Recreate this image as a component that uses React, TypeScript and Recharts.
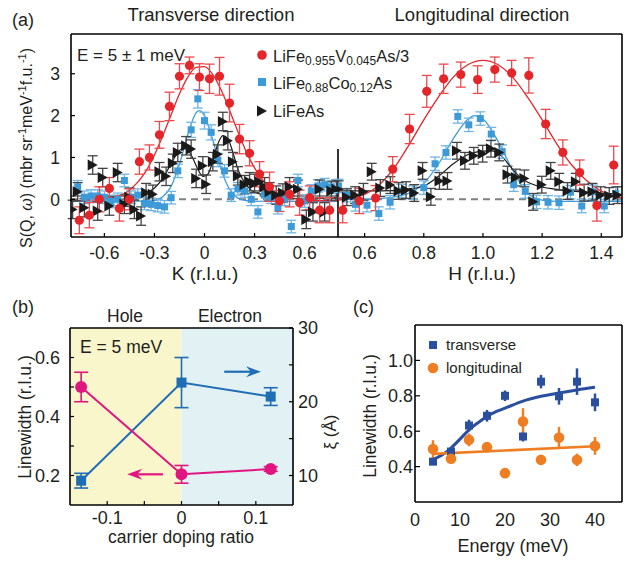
import React from 'react';
import { ComposedChart, Scatter, Line, XAxis, YAxis, ErrorBar, ReferenceLine, ReferenceArea } from 'recharts';

const FONT = '"Liberation Sans", Arial, Helvetica, sans-serif';
const INK = '#231f20';
const RED = '#e4262b';
const LBLUE = '#3d9ad8';
const BLK = '#1a1a1a';
const MAG = '#e0157f';
const DBLUE = '#1f6db5';
const CBLUE = '#2a4f9e';
const ORANGE = '#ef7d22';

// ---------- Panel (a): transverse (K) ----------
const kRed = [-0.75,-0.69,-0.63,-0.57,-0.51,-0.45,-0.39,-0.33,-0.27,-0.21,-0.15,-0.09,-0.03,0.03,0.09,0.15,0.21,0.27,0.33,0.39,0.45,0.51,0.57,0.63,0.69,0.75];
const sRedT = [-0.50,-0.38,0.0,0.26,-0.22,0.0,0.90,1.0,1.54,2.22,2.94,3.2,2.92,2.88,2.94,2.30,1.44,1.10,0.60,0.30,-0.04,0.12,-0.08,0.04,-0.26,-0.26];
const eRedT = [0.32,0.3,0.3,0.26,0.3,0.25,0.3,0.3,0.32,0.34,0.3,0.2,0.32,0.35,0.45,0.45,0.35,0.3,0.3,0.35,0.25,0.3,0.3,0.28,0.3,0.3];

const kBlue = [-0.76,-0.72,-0.68,-0.64,-0.60,-0.56,-0.52,-0.48,-0.44,-0.40,-0.36,-0.32,-0.28,-0.24,-0.20,-0.16,-0.08,-0.04,0.0,0.04,0.08,0.12,0.16,0.20,0.24,0.28,0.32,0.36,0.40,0.44,0.48,0.52,0.56,0.60,0.64,0.68,0.72,0.76];
const sBlueT = [0.30,0.05,0.08,0.08,0.05,-0.05,0.0,0.45,0.05,0.10,-0.10,-0.12,-0.15,-0.18,0.04,0.68,1.66,2.40,1.88,1.60,0.94,0.68,0.10,0.25,0.20,0.0,-0.30,0.10,0.05,-0.20,0.0,-0.65,0.45,-0.04,0.20,0.32,0.35,0.30];
const eBlueT = [0.15,0.15,0.15,0.15,0.15,0.15,0.15,0.15,0.15,0.15,0.15,0.15,0.15,0.15,0.15,0.16,0.18,0.22,0.2,0.18,0.16,0.15,0.15,0.15,0.15,0.15,0.15,0.15,0.15,0.15,0.15,0.15,0.15,0.15,0.15,0.15,0.15,0.15];

const kBlack = [-0.79,-0.76,-0.72,-0.67,-0.64,-0.61,-0.57,-0.52,-0.48,-0.45,-0.42,-0.38,-0.35,-0.31,-0.27,-0.23,-0.19,-0.16,-0.11,-0.08,-0.05,-0.01,0.01,0.05,0.08,0.11,0.14,0.17,0.20,0.24,0.27,0.30,0.33,0.36,0.39,0.43,0.47,0.51,0.56,0.61,0.65,0.69,0.72,0.76,0.79];
const sBlackT = [-0.24,0.18,-0.20,0.82,-0.28,0.52,-0.16,0.64,-0.12,0.05,-0.24,-0.40,0.16,0.12,0.66,0.55,0.86,1.12,1.28,1.20,0.50,0.80,0.36,0.90,1.08,1.86,1.40,0.90,0.56,0.35,0.42,0.38,0.42,0.30,0.18,0.10,0.15,0.30,0.24,-0.48,-0.30,0.24,-0.30,0.20,0.24];
const eBlackT = 0.22;

const fitRedTK = [-0.8,-0.7,-0.6,-0.55,-0.5,-0.45,-0.4,-0.35,-0.3,-0.25,-0.2,-0.15,-0.1,-0.05,0,0.05,0.1,0.15,0.2,0.25,0.3,0.35,0.4,0.45,0.5,0.55,0.6,0.7,0.8];
const fitRedT = [-0.03,-0.02,0.0,0.04,0.10,0.22,0.41,0.68,1.06,1.52,2.02,2.52,2.92,3.15,3.17,2.98,2.61,2.13,1.62,1.14,0.75,0.45,0.25,0.12,0.05,0.01,-0.01,-0.03,-0.03];
const fitBlueTK = [-0.8,-0.4,-0.3,-0.25,-0.2,-0.15,-0.1,-0.05,-0.03,0,0.05,0.1,0.15,0.2,0.25,0.3,0.8];
const fitBlueT = [-0.05,-0.05,-0.03,0.06,0.31,0.84,1.55,2.07,2.12,2.0,1.41,0.71,0.24,0.03,-0.03,-0.05,-0.05];
const fitBlackTK = [-0.8,-0.45,-0.4,-0.35,-0.3,-0.25,-0.2,-0.16,-0.13,-0.1,-0.07,-0.04,-0.01,0.02,0.05,0.08,0.11,0.14,0.17,0.2,0.24,0.28,0.33,0.4,0.5,0.8];
const fitBlackT = [0.08,0.08,0.1,0.15,0.27,0.5,0.85,1.12,1.22,1.18,0.98,0.72,0.55,0.6,0.92,1.32,1.52,1.45,1.12,0.72,0.4,0.22,0.13,0.09,0.08,0.08];

// ---------- Panel (a): longitudinal (H) ----------
const hRed = [0.526,0.582,0.637,0.695,0.752,0.81,0.867,0.925,0.982,1.04,1.097,1.155,1.212,1.27,1.327,1.385,1.442];
const sRedL = [-0.26,-0.04,0.03,0.72,1.68,2.58,2.88,2.98,2.86,3.10,3.02,2.96,1.80,1.12,0.64,-0.15,0.82];
const eRedL = [0.3,0.3,0.3,0.3,0.35,0.38,0.35,0.3,0.33,0.3,0.3,0.42,0.35,0.3,0.3,0.37,0.45];

const hBlue = [0.512,0.54,0.569,0.608,0.648,0.686,0.725,0.763,0.80,0.838,0.875,0.915,0.952,0.991,1.028,1.065,1.104,1.143,1.181,1.22,1.257,1.296,1.334,1.372,1.41,1.449];
const sBlueL = [0.32,0.10,-0.12,-0.14,-0.34,-0.07,0.20,0.16,0.28,0.85,1.12,1.98,1.78,1.93,1.56,1.14,0.35,0.19,-0.06,-0.07,-0.08,0.17,-0.16,0.18,-0.16,0.14];
const eBlueL = 0.16;

const hBlack = [0.512,0.54,0.568,0.596,0.624,0.653,0.687,0.715,0.74,0.768,0.796,0.824,0.853,0.88,0.912,0.939,0.969,0.999,1.027,1.055,1.083,1.111,1.14,1.17,1.199,1.229,1.258,1.286,1.314,1.342,1.37,1.398,1.427,1.455];
const sBlackL = [0.24,0.05,0.10,0.18,0.66,0.27,0.34,0.20,0.22,0.15,0.68,0.06,0.44,0.44,1.16,0.92,1.04,1.09,1.21,1.12,0.59,0.52,0.50,-0.06,0.35,0.68,0.42,0.20,0.42,0.16,0.18,0.10,0.08,0.10];
const eBlackL = 0.2;

const fitRedLH = [0.51,0.55,0.6,0.65,0.7,0.75,0.8,0.85,0.9,0.95,1.0,1.05,1.1,1.15,1.2,1.25,1.3,1.35,1.4,1.45,1.47];
const fitRedL = [-0.02,0.03,0.12,0.35,0.75,1.3,1.9,2.45,2.92,3.22,3.32,3.22,2.92,2.45,1.9,1.32,0.82,0.45,0.2,0.06,0.03];
const fitBlueLH = [0.51,0.6,0.65,0.7,0.75,0.8,0.85,0.9,0.95,0.97,1.0,1.05,1.1,1.15,1.2,1.25,1.47];
const fitBlueL = [0.0,0.0,0.02,0.06,0.15,0.38,0.85,1.45,1.92,2.0,1.92,1.4,0.7,0.15,-0.02,-0.05,-0.05];
const fitBlackLH = [0.51,0.6,0.7,0.75,0.8,0.85,0.9,0.95,1.0,1.03,1.06,1.1,1.13,1.18,1.25,1.35,1.47];
const fitBlackL = [0.2,0.2,0.21,0.25,0.32,0.55,0.85,1.07,1.15,1.16,1.05,0.72,0.5,0.33,0.24,0.17,0.12];

const kTicks = [-0.6,-0.3,0,0.3,0.6];
const hTicks = [0.6,0.8,1.0,1.2,1.4];
const sTicks = [0,1,2,3];

// ---------- Panel (b) ----------
const doping = [-0.135, 0, 0.12];
const linewidthB = [0.50, 0.204, 0.222];
const linewidthErrB = [0.05, 0.03, 0.008];
const xiB = [9.3, 22.6, 20.7];
const xiErrB = [1.0, 3.4, 1.2];
const dopTicks = [-0.1,-0.05,0,0.05,0.1];
const lwTicksB = [0.2,0.3,0.4,0.5,0.6];
const xiTicks = [10,15,20,25,30];

// ---------- Panel (c) ----------
const energy = [4,8,12,16,20,24,28,32,36,40];
const lwTrans = [0.428,0.485,0.632,0.687,0.80,0.57,0.88,0.797,0.88,0.763];
const lwTransErr = [0.008,0.02,0.033,0.033,0.03,0.028,0.038,0.047,0.075,0.05];
const lwLong = [0.499,0.444,0.551,0.51,0.363,0.655,0.438,0.564,0.438,0.517];
const lwLongErr = [0.05,0.01,0.036,0.02,0.01,0.075,0.015,0.06,0.035,0.05];
const fitTransE = [4,6,8,10,12,14,16,18,20,24,28,32,36,40];
const fitTrans = [0.44,0.465,0.505,0.555,0.608,0.648,0.683,0.71,0.73,0.77,0.797,0.816,0.833,0.848];
const fitLongE = [4,40];
const fitLong = [0.472,0.515];
const eTicks = [0,10,20,30,40];
const lwTicksC = [0.4,0.6,0.8,1.0];

const pts = (xs: number[], ys: number[], es?: number[] | number) =>
  xs.map((x, i) => ({ x, y: ys[i], e: es === undefined ? 0 : typeof es === 'number' ? es : es[i] }));

const circle = (r: number, fill: string) => (p: any) => <circle cx={p.cx} cy={p.cy} r={r} fill={fill} />;
const square = (s: number, fill: string) => (p: any) => <rect x={p.cx - s / 2} y={p.cy - s / 2} width={s} height={s} fill={fill} />;
const tri = (w: number, h: number, fill: string) => (p: any) => (
  <polygon points={`${p.cx - w / 2},${p.cy - h / 2} ${p.cx + w / 2},${p.cy} ${p.cx - w / 2},${p.cy + h / 2}`} fill={fill} />
);

const arrow = (color: string) => (p: any) => {
  const { x1, y1, x2, y2 } = p;
  const dir = x2 > x1 ? 1 : -1;
  const L = 15, W = 5.5, N = 10;
  return (
    <g>
      <line x1={x1} y1={y1} x2={x2 - dir * N} y2={y2} stroke={color} strokeWidth={2.2} />
      <polygon points={`${x2},${y2} ${x2 - dir * L},${y2 - W} ${x2 - dir * N},${y2} ${x2 - dir * L},${y2 + W}`} fill={color} />
    </g>
  );
};

const AX = { stroke: '#000', strokeWidth: 1.6 };
const TL = { stroke: '#000', strokeWidth: 1.2 };
const tick = (size: number) => ({ fontSize: size, fill: INK, fontFamily: FONT });
const near = (v: number, arr: number[]) => arr.some((t) => Math.abs(t - v) < 1e-6);

const Abs: React.FC<{ children: React.ReactNode }> = ({ children }) => (
  <div style={{ position: 'absolute', left: 0, top: 0, width: 630, height: 562 }}>{children}</div>
);

export default function App() {
  return (
    <div style={{ position: 'absolute', left: 0, top: 0, width: 630, height: 562, background: '#fff', fontFamily: FONT }}>
      {/* Panel (a) left: transverse */}
      <Abs>
        <ComposedChart width={630} height={562} margin={{ top: 34, left: 31, right: 292, bottom: 295 }}>
          <XAxis type="number" dataKey="x" domain={[-0.8, 0.8]} allowDataOverflow ticks={kTicks} height={30}
            tickSize={-4} tickMargin={14} axisLine={AX} tickLine={TL} tick={tick(17.5)} />
          <YAxis type="number" dataKey="y" domain={[-0.9, 3.95]} allowDataOverflow ticks={sTicks} width={40}
            tickSize={-4} tickMargin={15} axisLine={AX} tickLine={TL} tick={tick(17.5)} />
          <ReferenceLine y={3.95} stroke="#000" strokeWidth={1.6} />
          <ReferenceLine y={0} stroke="#808080" strokeDasharray="7 5" strokeWidth={2} />
          <Line data={pts(fitBlueTK, fitBlueT)} dataKey="y" type="monotone" stroke={LBLUE} strokeWidth={1.3} dot={false} isAnimationActive={false} />
          <Line data={pts(fitBlackTK, fitBlackT)} dataKey="y" type="monotone" stroke={BLK} strokeWidth={1.2} dot={false} isAnimationActive={false} />
          <Line data={pts(fitRedTK, fitRedT)} dataKey="y" type="monotone" stroke={RED} strokeWidth={1.3} dot={false} isAnimationActive={false} />
          <Scatter data={pts(kBlue, sBlueT, eBlueT)} shape={square(7, LBLUE)} isAnimationActive={false}>
            <ErrorBar dataKey="e" direction="y" width={5} stroke="#6fb6e4" strokeWidth={1.3} />
          </Scatter>
          <Scatter data={pts(kBlack, sBlackT, eBlackT)} shape={tri(10, 11, BLK)} isAnimationActive={false}>
            <ErrorBar dataKey="e" direction="y" width={5} stroke="#444" strokeWidth={1.3} />
          </Scatter>
          <Scatter data={pts(kRed, sRedT, eRedT)} shape={circle(4.6, RED)} isAnimationActive={false}>
            <ErrorBar dataKey="e" direction="y" width={5} stroke="#ea4a4e" strokeWidth={1.3} />
          </Scatter>
        </ComposedChart>
      </Abs>

      {/* Panel (a) right: longitudinal */}
      <Abs>
        <ComposedChart width={630} height={562} margin={{ top: 34, left: 338, right: 0, bottom: 295 }}>
          <XAxis type="number" dataKey="x" domain={[0.51, 1.47]} allowDataOverflow ticks={hTicks} height={30}
            tickSize={-4} tickMargin={14} axisLine={AX} tickLine={TL} tick={tick(17.5)} tickFormatter={(v: number) => v.toFixed(1)} />
          <YAxis type="number" dataKey="y" orientation="right" domain={[-0.9, 3.95]} allowDataOverflow ticks={sTicks} width={8}
            tickSize={-4} axisLine={AX} tickLine={TL} tick={false} />
          <ReferenceLine y={3.95} stroke="#000" strokeWidth={1.6} />
          <ReferenceLine segment={[{ x: 0.51, y: -0.9 }, { x: 0.51, y: 1.2 }]} stroke="#000" strokeWidth={1.6} />
          <ReferenceLine y={0} stroke="#808080" strokeDasharray="7 5" strokeWidth={2} />
          <Line data={pts(fitBlueLH, fitBlueL)} dataKey="y" type="monotone" stroke={LBLUE} strokeWidth={1.3} dot={false} isAnimationActive={false} />
          <Line data={pts(fitBlackLH, fitBlackL)} dataKey="y" type="monotone" stroke={BLK} strokeWidth={1.2} dot={false} isAnimationActive={false} />
          <Line data={pts(fitRedLH, fitRedL)} dataKey="y" type="monotone" stroke={RED} strokeWidth={1.3} dot={false} isAnimationActive={false} />
          <Scatter data={pts(hBlue, sBlueL, eBlueL)} shape={square(7, LBLUE)} isAnimationActive={false}>
            <ErrorBar dataKey="e" direction="y" width={5} stroke="#6fb6e4" strokeWidth={1.3} />
          </Scatter>
          <Scatter data={pts(hBlack, sBlackL, eBlackL)} shape={tri(10, 11, BLK)} isAnimationActive={false}>
            <ErrorBar dataKey="e" direction="y" width={5} stroke="#444" strokeWidth={1.3} />
          </Scatter>
          <Scatter data={pts(hRed, sRedL, eRedL)} shape={circle(4.6, RED)} isAnimationActive={false}>
            <ErrorBar dataKey="e" direction="y" width={5} stroke="#ea4a4e" strokeWidth={1.3} />
          </Scatter>
        </ComposedChart>
      </Abs>

      {/* Panel (b) */}
      <Abs>
        <ComposedChart width={630} height={562} margin={{ top: 328, left: 30, right: 297, bottom: 27 }}>
          <XAxis type="number" dataKey="x" domain={[-0.15, 0.15]} allowDataOverflow ticks={dopTicks} height={30}
            tickSize={-4} tickMargin={10} axisLine={AX} tickLine={TL} tick={tick(18)}
            tickFormatter={(v: number) => (near(v, [-0.1, 0.1]) ? v.toFixed(1) : near(v, [0]) ? '0' : '')} />
          <YAxis yAxisId="l" type="number" dataKey="y" domain={[0.1, 0.7]} allowDataOverflow ticks={lwTicksB} width={40}
            tickSize={-4} tickMargin={14} axisLine={AX} tickLine={TL} tick={tick(18)}
            tickFormatter={(v: number) => (near(v, [0.2, 0.4, 0.6]) ? v.toFixed(1) : '')} />
          <YAxis yAxisId="r" orientation="right" type="number" dataKey="y" domain={[6, 30]} allowDataOverflow ticks={xiTicks} width={40}
            tickSize={-4} tickMargin={9} axisLine={AX} tickLine={TL} tick={tick(18)}
            tickFormatter={(v: number) => (near(v, [10, 20, 30]) ? String(v) : '')} />
          <ReferenceArea yAxisId="l" x1={-0.15} x2={0} y1={0.1} y2={0.7} fill="#faf6cc" fillOpacity={1} stroke="none" />
          <ReferenceArea yAxisId="l" x1={0} x2={0.15} y1={0.1} y2={0.7} fill="#e2f1f3" fillOpacity={1} stroke="none" />
          <ReferenceLine yAxisId="l" y={0.7} stroke="#000" strokeWidth={1.6} />
          <ReferenceLine yAxisId="r" segment={[{ x: 0.0575, y: 24.07 }, { x: 0.107, y: 24.07 }]} stroke={DBLUE} shape={arrow(DBLUE)} />
          <ReferenceLine yAxisId="l" segment={[{ x: -0.025, y: 0.204 }, { x: -0.073, y: 0.204 }]} stroke={MAG} shape={arrow(MAG)} />
          <Line yAxisId="r" data={pts(doping, xiB)} dataKey="y" type="linear" stroke={DBLUE} strokeWidth={2} dot={false} isAnimationActive={false} />
          <Line yAxisId="l" data={pts(doping, linewidthB)} dataKey="y" type="linear" stroke={MAG} strokeWidth={2} dot={false} isAnimationActive={false} />
          <Scatter yAxisId="r" data={pts(doping, xiB, xiErrB)} shape={square(10, DBLUE)} isAnimationActive={false}>
            <ErrorBar dataKey="e" direction="y" width={7} stroke={DBLUE} strokeWidth={1.6} />
          </Scatter>
          <Scatter yAxisId="l" data={pts(doping, linewidthB, linewidthErrB)} shape={circle(6, MAG)} isAnimationActive={false}>
            <ErrorBar dataKey="e" direction="y" width={7} stroke={MAG} strokeWidth={1.6} />
          </Scatter>
        </ComposedChart>
      </Abs>

      {/* Panel (c) */}
      <Abs>
        <ComposedChart width={630} height={562} margin={{ top: 325, left: 375, right: 8, bottom: 30 }}>
          <XAxis type="number" dataKey="x" domain={[0, 46]} allowDataOverflow ticks={eTicks} height={30}
            tickSize={0} tickMargin={11} axisLine={AX} tickLine={false} tick={tick(18)} />
          <YAxis type="number" dataKey="y" domain={[0.2, 1.2]} allowDataOverflow ticks={lwTicksC} width={40}
            tickSize={-5} tickMargin={7} axisLine={AX} tickLine={TL} tick={tick(18)} tickFormatter={(v: number) => v.toFixed(1)} />
          <ReferenceLine y={1.2} stroke="#000" strokeWidth={1.6} />
          <ReferenceLine x={46} stroke="#000" strokeWidth={1.6} />
          <Line data={pts(fitTransE, fitTrans)} dataKey="y" type="monotone" stroke={CBLUE} strokeWidth={3} dot={false} isAnimationActive={false} />
          <Line data={pts(fitLongE, fitLong)} dataKey="y" type="linear" stroke={ORANGE} strokeWidth={2.6} dot={false} isAnimationActive={false} />
          <Scatter data={pts(energy, lwTrans, lwTransErr)} shape={square(8, CBLUE)} isAnimationActive={false}>
            <ErrorBar dataKey="e" direction="y" width={0} stroke={CBLUE} strokeWidth={2.5} />
          </Scatter>
          <Scatter data={pts(energy, lwLong, lwLongErr)} shape={circle(5.3, ORANGE)} isAnimationActive={false}>
            <ErrorBar dataKey="e" direction="y" width={0} stroke={ORANGE} strokeWidth={2.5} />
          </Scatter>
        </ComposedChart>
      </Abs>

      {/* Annotations */}
      <svg width={630} height={562} style={{ position: 'absolute', left: 0, top: 0, pointerEvents: 'none' }} fontFamily={FONT} fill={INK}>
        <text x={12} y={26} fontSize={18}>(a)</text>
        <text x={211} y={21} fontSize={18.5} textAnchor="middle">Transverse direction</text>
        <text x={482} y={21} fontSize={18.5} textAnchor="middle">Longitudinal direction</text>
        <text x={77} y={61} fontSize={17}>E = 5 ± 1 meV</text>

        <circle cx={262} cy={55} r={4.8} fill={RED} />
        <text x={273} y={62} fontSize={16.5}>
          LiFe<tspan fontSize={12} dy={3}>0.955</tspan><tspan dy={-3}>V</tspan><tspan fontSize={12} dy={3}>0.045</tspan><tspan dy={-3}>As/3</tspan>
        </text>
        <rect x={258} y={78} width={8} height={8} fill={LBLUE} />
        <text x={273} y={89} fontSize={16.5}>
          LiFe<tspan fontSize={12} dy={3}>0.88</tspan><tspan dy={-3}>Co</tspan><tspan fontSize={12} dy={3}>0.12</tspan><tspan dy={-3}>As</tspan>
        </text>
        <polygon points="257,105.5 267,111 257,116.5" fill={BLK} />
        <text x={273} y={117} fontSize={16.5}>LiFeAs</text>

        <text x={205} y={280} fontSize={19} textAnchor="middle">K (r.l.u.)</text>
        <text x={482} y={280} fontSize={19} textAnchor="middle">H (r.l.u.)</text>
        <text transform="translate(32,148) rotate(-90)" fontSize={16} textAnchor="middle">
          S(Q, <tspan fontStyle="italic">ω</tspan>) (mbr sr<tspan fontSize={11} dy={-6}>-1</tspan><tspan dy={6}>meV</tspan><tspan fontSize={11} dy={-6}>-1</tspan><tspan dy={6}>f.u.</tspan><tspan fontSize={11} dy={-6}>-1</tspan><tspan dy={6}>)</tspan>
        </text>

        <text x={12} y={313} fontSize={18}>(b)</text>
        <text x={125} y={322} fontSize={17.5} textAnchor="middle">Hole</text>
        <text x={230} y={322} fontSize={17.5} textAnchor="middle">Electron</text>
        <text x={80} y={353} fontSize={17.5}>E = 5 meV</text>
        <text transform="translate(31,417) rotate(-90)" fontSize={17.5} textAnchor="middle">Linewidth (r.l.u.)</text>
        <text x={181} y={543} fontSize={17.5} textAnchor="middle">carrier doping ratio</text>
        <text transform="translate(336,432) rotate(-90)" fontSize={17} textAnchor="middle">ξ (Å)</text>

        <text x={353} y={313} fontSize={18}>(c)</text>
        <rect x={429} y={341} width={8} height={8} fill={CBLUE} />
        <text x={446} y={350} fontSize={15}>transverse</text>
        <circle cx={433} cy={368} r={5.3} fill={ORANGE} />
        <text x={446} y={373} fontSize={15}>longitudinal</text>
        <text transform="translate(376,416) rotate(-90)" fontSize={17.5} textAnchor="middle">Linewidth (r.l.u.)</text>
        <text x={513} y={552} fontSize={18} textAnchor="middle">Energy (meV)</text>
      </svg>
    </div>
  );
}
